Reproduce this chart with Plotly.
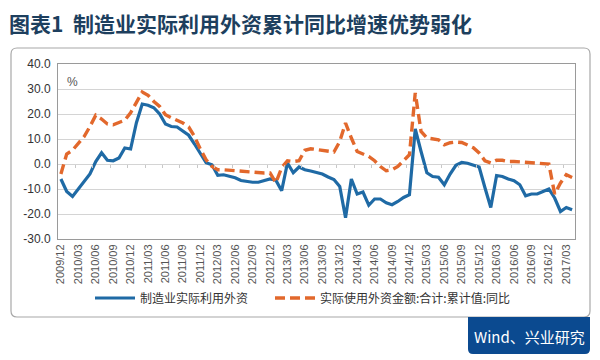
import plotly.graph_objects as go

# ---------------- data ----------------
months = []
y, m = 2009, 12
for _ in range(89):
    months.append(f"{y}/{m:02d}")
    m += 1
    if m > 12:
        m = 1
        y += 1

mfg_yoy = [-6, -11, -13, -10, -7.5, -4, 1, 4.5, 1.5, 1.3,
           2.4, 6.4, 6, 16.5, 24, 23.5, 22.5, 20, 16, 15,
           14.8, 13, 11.5, 8, 4.5, 0.5, -0.3, -4.5, -4.3, -4.8,
           -5.5, -6.6, -7, -7.3, -7.3, -6.7, -6, -6.5, -10.7, 0.4,
           -3.5, -1.2, -2.3, -2.8, -3.5, -4, -5.2, -6.2, -9, -21.5,
           -6, -12, -11.2, -16.5, -14, -14, -15.5, -16.3, -15, -13.4,
           -12.3, 14, 5, -3.5, -5, -5.3, -8.3, -4, -0.5, 0.6,
           0.3, -0.3, -1.2, -9.5, -17.4, -4.6, -5, -6, -6.7, -8.3,
           -12.7, -12, -12, -11, -10, -13.6, -19, -17.4, -18.3]

total_yoy = [-4, 4, 5.5, 8.4, 11, 15, 19.5, 18, 16, 15.7,
             16.5, 17.5, 20.5, 25, 28.8, 27.5, 25, 23, 19.7, 18.5,
             17.3, 16.4, 14.8, 11, 6, 1.7, -1, -2.3, -2.3, -2.5,
             -2.8, -3, -3.2, -3.4, -3.6, -3.6, -3.6, -7.5, -1.5, 1.3,
             1, 1.3, 5.5, 6.1, 5.8, 5.5, 5, 4.8, 9, 16.4,
             10.4, 5, 4, 3, 1.3, -1, -2.7, -2.3, -1, 1.3,
             3.7, 28.4, 13, 10.4, 10, 9.7, 7.7, 8.5, 8.8, 8.6,
             7.6, 6.5, 4.4, 1.3, 0.4, 1.5, 1.5, 1, 1, 0.8,
             0.8, 0.5, 0.4, 0.2, 0, -12, -7.6, -4.3, -5.4]

series_names = ["制造业实际利用外资", "实际使用外资金额:合计:累计值:同比"]
y_ticks = [40, 30, 20, 10, 0, -10, -20, -30]
title_text = "图表1  制造业实际利用外资累计同比增速优势弱化"
source_text = "Wind、兴业研究"

x_idx = list(range(len(months)))
tick_idx = x_idx[::3]
tick_txt = months[::3]

# ---------------- geometry helpers ----------------
W, H = 600, 360
L, R, T, B = 58, 575, 64, 239


def px(x):
    return (x - L) / (R - L)


def py(y):
    return (B - y) / (B - T)


fig = go.Figure()
fig.add_trace(go.Scatter(x=x_idx, y=mfg_yoy, mode="lines", name=series_names[0],
                         line=dict(color="#1f6aa5", width=3.2), legend="legend"))
fig.add_trace(go.Scatter(x=x_idx, y=total_yoy, mode="lines", name=series_names[1],
                         line=dict(color="#e2682c", width=3.4, dash="10px,5px"),
                         legend="legend2"))
# invisible trace to carry the zero-line tick axis
fig.add_trace(go.Scatter(x=[x_idx[0]], y=[0], xaxis="x2", mode="lines",
                         showlegend=False, hoverinfo="skip", opacity=0))

leg_common = dict(orientation="h", yanchor="middle", xanchor="left",
                  font=dict(size=12, color="#333333", family="Noto Sans CJK SC"),
                  bgcolor="rgba(0,0,0,0)", itemwidth=40)

fig.update_layout(
    width=W, height=H,
    margin=dict(l=L, r=W - R, t=T, b=H - B, autoexpand=False),
    paper_bgcolor="white", plot_bgcolor="white",
    font=dict(family="Liberation Sans, Arial, sans-serif", color="#333333"),
    xaxis=dict(range=[-0.5, len(months) - 0.5], tickmode="array",
               tickvals=tick_idx, ticktext=tick_txt, tickangle=-90,
               tickfont=dict(size=11, color="#555555"),
               showgrid=False, zeroline=False, showline=True, linecolor="#9a9a9a",
               linewidth=1, mirror=True, ticks=""),
    xaxis2=dict(overlaying="x", anchor="free", position=30 / 70, matches="x",
                range=[-0.5, len(months) - 0.5], tickmode="array",
                tickvals=[i + 2.5 for i in tick_idx], showticklabels=False,
                ticks="outside", ticklen=3, tickcolor="#c8c8c8", showline=False,
                showgrid=False, zeroline=False),
    yaxis=dict(range=[-30, 40], tickmode="array", tickvals=y_ticks,
               ticktext=[f"{v:.1f}" for v in y_ticks],
               tickfont=dict(size=12, color="#333333"),
               showgrid=True, gridcolor="#d4d4d4", gridwidth=1,
               zeroline=False, showline=True, linecolor="#9a9a9a", linewidth=1,
               mirror=True, ticks="", ticklabelstandoff=4),
    legend=dict(x=px(90), y=py(298), **leg_common),
    legend2=dict(x=px(270), y=py(298), **leg_common),
    showlegend=True,
)

# outer rounded frame
x0, x1, y0, y1, r = px(11), px(590), py(48), py(317), 6
rx, ry = r / (R - L), r / (B - T)
path = (f"M {x0 + rx},{y0} L {x1 - rx},{y0} Q {x1},{y0} {x1},{y0 - ry} "
        f"L {x1},{y1 + ry} Q {x1},{y1} {x1 - rx},{y1} L {x0 + rx},{y1} "
        f"Q {x0},{y1} {x0},{y1 + ry} L {x0},{y0 - ry} Q {x0},{y0} {x0 + rx},{y0} Z")
fig.add_shape(type="path", path=path, xref="paper", yref="paper",
              line=dict(color="#a8a8a8", width=1.2), layer="below")

# source badge
bx0, bx1, by0, by1 = px(468), px(590), py(317), py(354)
brx, bry = 5 / (R - L), 5 / (B - T)
bpath = (f"M {bx0},{by0} L {bx1},{by0} L {bx1},{by1 + bry} Q {bx1},{by1} {bx1 - brx},{by1} "
         f"L {bx0 + brx},{by1} Q {bx0},{by1} {bx0},{by1 + bry} Z")
fig.add_shape(type="path", path=bpath, xref="paper", yref="paper",
              fillcolor="#0b4a90", line=dict(width=0))
fig.add_annotation(x=px(529), y=py(336), xref="paper", yref="paper", text=source_text,
                   showarrow=False, xanchor="center", yanchor="middle",
                   font=dict(size=15, color="white", family="Noto Sans CJK SC"))

# title
fig.add_annotation(x=px(7), y=py(23), xref="paper", yref="paper", text=title_text,
                   showarrow=False, xanchor="left", yanchor="middle",
                   font=dict(size=21, color="#1d3f5e", family="Noto Sans CJK SC",
                             weight="bold"))

# unit
fig.add_annotation(x=px(72), y=py(82), xref="paper", yref="paper", text="%",
                   showarrow=False, xanchor="center", yanchor="middle",
                   font=dict(size=12, color="#555555"))

fig.write_html("out.html", config={"displayModeBar": False},
               post_script="document.body.style.margin='0';document.body.style.padding='0';")
